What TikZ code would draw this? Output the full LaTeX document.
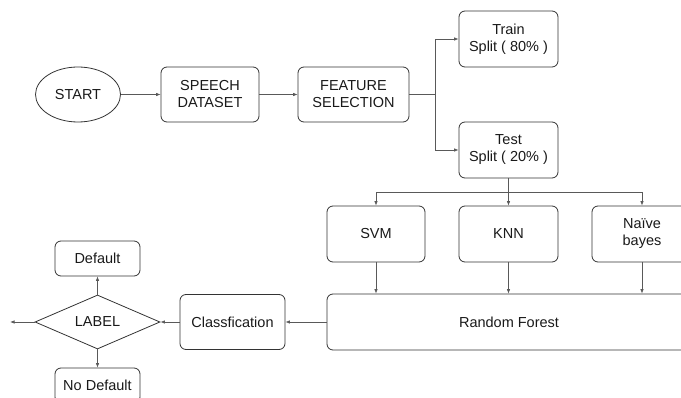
\documentclass[tikz,border=0pt]{standalone}
\usepackage{fontspec}
\setmainfont{Liberation Sans}
\usetikzlibrary{shapes.geometric,arrows.meta}
\begin{document}
\begin{tikzpicture}[x=1pt,y=-1pt,
 box/.style={draw=black!80, rounded corners=6pt, line width=0.8pt, align=center,
   font=\fontsize{14.5}{17}\selectfont, inner sep=0pt, text=black!90},
 conn/.style={draw=black!65, line width=0.7pt},
 arr/.style={conn, -{Latex[length=4.5pt,width=3.5pt]}}]
\useasboundingbox (0,0) rectangle (681,398);
\clip (0,0) rectangle (681,398);
\node[box, ellipse, rounded corners=0pt, minimum width=85pt, minimum height=55pt] (start) at (78,94.5) {START};
\node[box, minimum width=98pt, minimum height=55pt] (speech) at (210,94.5) {SPEECH\\DATASET};
\node[box, minimum width=111pt, minimum height=55pt] (feature) at (353.5,94.5) {FEATURE\\SELECTION};
\node[box, minimum width=99pt, minimum height=56pt] (train) at (508.5,39) {Train\\Split ( 80\% )};
\node[box, minimum width=99pt, minimum height=56pt] (test) at (508.5,150) {Test\\Split ( 20\% )};
\node[box, minimum width=98pt, minimum height=56pt] (svm) at (376,234) {SVM};
\node[box, minimum width=99pt, minimum height=56pt] (knn) at (508.5,234) {KNN};
\node[box, minimum width=100pt, minimum height=56pt] (nb) at (642,234) {Naïve\\bayes};
\node[box, minimum width=364pt, minimum height=56pt] (rf) at (509,322) {Random Forest};
\node[box, minimum width=105pt, minimum height=55pt] (cls) at (232.5,322) {Classfication};
\node[box, diamond, rounded corners=0pt, aspect=2.3, minimum width=125pt, minimum height=54pt] (label) at (97.5,322) {LABEL};
\node[box, minimum width=85pt, minimum height=35pt] (default) at (97.5,258.5) {Default};
\node[box, minimum width=85pt, minimum height=35pt] (nodef) at (97.5,385.5) {No Default};
\coordinate (bus) at (508.5,192);
\coordinate (out) at (10,322);
\draw[arr] (start.east) -- (speech.west);
\draw[arr] (speech.east) -- (feature.west);
\draw[arr] (feature.east) -- ++(26,0) |- (train.west);
\draw[arr] (feature.east) -- ++(26,0) |- (test.west);
\draw[conn] (test.south) -- (bus);
\draw[arr] (bus) -| (svm.north);
\draw[arr] (bus) -| (nb.north);
\draw[arr] (bus) -- (knn.north);
\draw[arr] (svm.south) -- (svm.south |- rf.north);
\draw[arr] (knn.south) -- (knn.south |- rf.north);
\draw[arr] (nb.south) -- (nb.south |- rf.north);
\draw[arr] (rf.west) -- (cls.east);
\draw[arr] (cls.west) -- (label.east);
\draw[arr] (label.west) -- (out);
\draw[arr] (label.north) -- (default.south);
\draw[arr] (label.south) -- (nodef.north);
\end{tikzpicture}
\end{document}
